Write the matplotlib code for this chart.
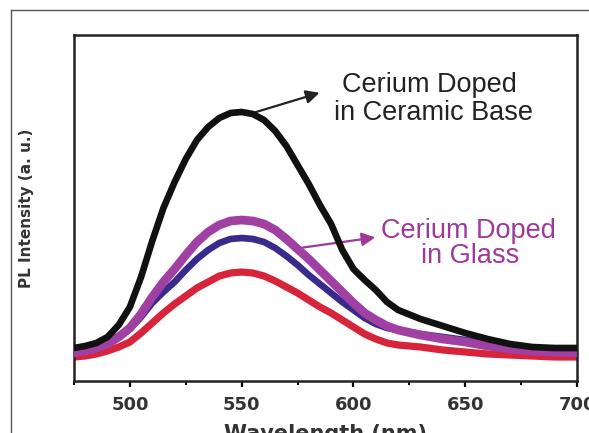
import numpy as np
import matplotlib
matplotlib.use('Agg')
import matplotlib.pyplot as plt
from matplotlib.lines import Line2D
from matplotlib.ticker import MultipleLocator

# PL spectra (intensity in arbitrary units)
wavelength = [475, 480, 485, 490, 495, 500, 505, 510, 515, 520, 525, 530, 535, 540,
              545, 550, 555, 560, 565, 570, 575, 580, 585, 590, 595, 600, 605, 610,
              615, 620, 630, 640, 650, 660, 670, 680, 690, 700]

pl_ceramic = [33, 35, 38, 44, 56, 74, 104, 140, 173, 199, 222, 241, 254, 263,
              268, 269, 267, 261, 250, 235, 216, 197, 176, 157, 131, 112, 101, 91,
              79, 71, 62, 55, 48, 42, 37, 34, 33, 33]

pl_glass_purple = [28, 30, 33, 37, 44, 53, 67, 84, 99, 112, 126, 139, 149, 156,
                   160, 161, 160, 157, 151, 142, 132, 122, 111, 100, 89, 78, 68, 61,
                   55, 51, 46, 42, 39, 35, 32, 30, 29, 28]

pl_glass_blue = [29, 32, 35, 40, 45, 52, 64, 78, 89, 99, 111, 122, 131, 138,
                 142, 143, 142, 139, 133, 125, 116, 106, 97, 88, 79, 71, 63, 57,
                 53, 51, 47, 44, 41, 37, 34, 32, 31, 31]

pl_glass_red = [24, 25, 27, 30, 34, 39, 48, 58, 68, 77, 85, 93, 99, 105,
                108, 109, 108, 105, 100, 94, 88, 81, 74, 68, 61, 54, 47, 42,
                38, 36, 34, 31, 29, 27, 26, 25, 24, 24]

xticks = [500, 550, 600, 650, 700]

fig = plt.figure(figsize=(5.89, 4.33), dpi=100)
ax = fig.add_axes([74 / 589, 1 - 381 / 433, 503 / 589, 346 / 433])

# outer frame of the figure panel (only top and left visible)
fig.add_artist(Line2D([11 / 589, 11 / 589], [0, 1 - 10 / 433], color='#555555', lw=1.0))
fig.add_artist(Line2D([11 / 589, 1], [1 - 10 / 433, 1 - 10 / 433], color='#555555', lw=1.0))

kw = dict(solid_joinstyle='round', solid_capstyle='round')
ax.plot(wavelength, pl_glass_red, color='#d8243a', lw=5.2, zorder=2, **kw)
ax.plot(wavelength, pl_glass_blue, color='#3a2a8c', lw=4.8, zorder=3, **kw)
ax.plot(wavelength, pl_glass_purple, color='#a040a2', lw=6.3, zorder=4, **kw)
ax.plot(wavelength, pl_ceramic, color='#111111', lw=4.8, zorder=5, **kw)

ax.set_xlim(475, 700)
ax.set_ylim(0, 346)
ax.set_xticks(xticks)
ax.xaxis.set_minor_locator(MultipleLocator(25))
ax.set_yticks([])
ax.tick_params(axis='x', which='major', direction='out', length=4, width=1.6,
               pad=7, labelsize=13, labelcolor='#333333')
ax.tick_params(axis='x', which='minor', direction='out', length=3, width=1.4)
for lab in ax.get_xticklabels():
    lab.set_fontweight('bold')
for sp in ax.spines.values():
    sp.set_linewidth(1.8)
    sp.set_color('#222222')

ax.set_xlabel('Wavelength (nm)', fontsize=15, fontweight='bold', color='#333333', labelpad=7)
ax.set_ylabel('PL Intensity (a. u.)', fontsize=11, fontweight='bold', color='#333333', labelpad=29)

# annotations
tfont = dict(family='Liberation Sans', fontsize=19.5, ha='center', va='baseline')
ax.text(634, 289, 'Cerium Doped', color='#222222', **tfont)
ax.text(635.7, 261, 'in Ceramic Base', color='#222222', **tfont)
ax.annotate('', xy=(586, 289), xytext=(555, 268),
            arrowprops=dict(arrowstyle='-|>', color='#222222', lw=1.6, mutation_scale=20))

ax.text(651.6, 143, 'Cerium Doped', color='#a0389a', **tfont)
ax.text(652, 118, 'in Glass', color='#a0389a', **tfont)
ax.annotate('', xy=(611, 144), xytext=(576, 133),
            arrowprops=dict(arrowstyle='-|>', color='#a0389a', lw=1.6, mutation_scale=20))

fig.savefig('out.png', dpi=100)
